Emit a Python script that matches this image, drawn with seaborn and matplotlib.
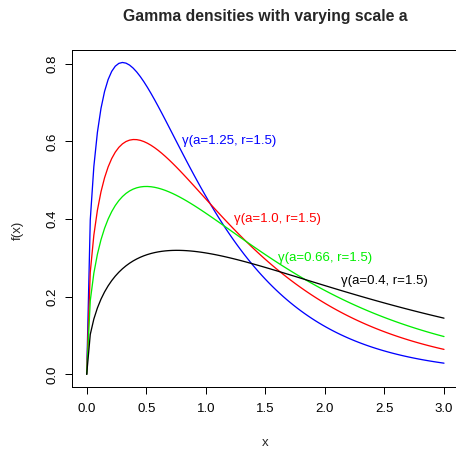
import math
import numpy as np
import pandas as pd
import matplotlib
matplotlib.use("Agg")
import matplotlib.pyplot as plt
import seaborn as sns

# Curve parameters (rates actually drawn, shape r) and their labels
rates = [1.66, 1.25, 1.0, 0.66]
shape = 1.5
colors = ["blue", "red", "#00ee00", "black"]
labels = ["γ(a=1.25, r=1.5)", "γ(a=1.0, r=1.5)", "γ(a=0.66, r=1.5)", "γ(a=0.4, r=1.5)"]
label_x = [1.2, 1.6, 2.0, 2.5]
label_y = [0.60, 0.40, 0.30, 0.24]
x_ticks = [0.0, 0.5, 1.0, 1.5, 2.0, 2.5, 3.0]
y_ticks = [0.0, 0.2, 0.4, 0.6, 0.8]
xgrid = np.linspace(0, 3, 101)

rows = []
for i, a in enumerate(rates):
    dens = a ** shape * xgrid ** (shape - 1) * np.exp(-a * xgrid) / math.gamma(shape)
    for xv, yv in zip(xgrid, dens):
        rows.append({"x": xv, "y": yv, "curve": i})
df = pd.DataFrame(rows)

sns.set_style("white")
plt.rcParams["font.family"] = ["Liberation Sans", "DejaVu Sans"]

W, H = 456, 452
fig = plt.figure(figsize=(W / 72, H / 72), dpi=72)
L, R, T, B = 72.4, 458.3, 50.0, 386.8
ax = fig.add_axes([L / W, 1 - B / H, (R - L) / W, (B - T) / H])

FS = 13.2
for i in range(len(rates)):
    sub = df[df["curve"] == i]
    sns.lineplot(data=sub, x="x", y="y", color=colors[i], linewidth=1.3, ax=ax,
                 sort=False, estimator=None)
    ax.text(label_x[i], label_y[i], labels[i], color=colors[i], fontsize=FS,
            ha="center", va="center")

ymax = df["y"].max()
ax.set_xlim(-0.04 * 3, 3 + 0.04 * 3)
ax.set_ylim(-0.04 * ymax, ymax * 1.04)
ax.set_xticks(x_ticks)
ax.set_xticklabels([f"{v:.1f}" for v in x_ticks])
ax.set_yticks(y_ticks)
ax.set_yticklabels([f"{v:.1f}" for v in y_ticks], rotation=90, va="center")
ax.tick_params(axis="both", direction="out", length=7, width=1, color="black",
               labelsize=FS, labelcolor="black", left=True, bottom=True)
ax.tick_params(axis="x", pad=9)
ax.tick_params(axis="y", pad=7)
for s in ax.spines.values():
    s.set_color("black")
    s.set_linewidth(1)
ax.set_xlabel("")
ax.set_ylabel("")

fig.text(265 / W, 1 - 443 / H, "x", fontsize=FS, ha="center", va="center")
fig.text(18 / W, 1 - 230 / H, "f(x)", fontsize=FS, ha="center", va="center", rotation=90)
fig.text(265 / W, 1 - 16.7 / H, "Gamma densities with varying scale a", fontsize=15.8,
         fontweight="bold", ha="center", va="center")

fig.savefig("out.png", dpi=72)
